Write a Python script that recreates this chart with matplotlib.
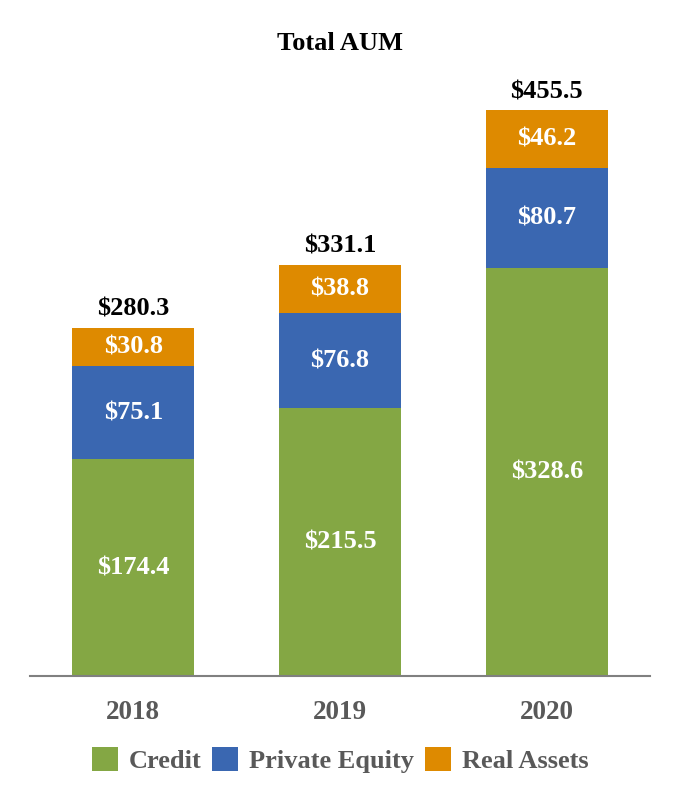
import matplotlib.pyplot as plt
import numpy as np

# data
years = ['2018', '2019', '2020']
credit = [174.4, 215.5, 328.6]
private_equity = [75.1, 76.8, 80.7]
real_assets = [30.8, 38.8, 46.2]
totals = [280.3, 331.1, 455.5]

series_names = ['Credit', 'Private Equity', 'Real Assets']
colors = ['#84A744', '#3A67B1', '#DE8A00']

plt.rcParams['font.family'] = ['Liberation Serif', 'DejaVu Serif']
plt.rcParams['font.weight'] = 'bold'

fig = plt.figure(figsize=(6.8, 8), dpi=100)
ax = fig.add_axes([0.044, 0.155, 0.912, 0.776])

x = np.arange(len(years))
w = 0.59
bottom = np.zeros(len(years))
handles = []
for vals, name, c in zip([credit, private_equity, real_assets], series_names, colors):
    b = ax.bar(x, vals, w, bottom=bottom, color=c, label=name)
    handles.append(b)
    for xi, v, bt in zip(x, vals, bottom):
        ax.text(xi, bt + v / 2, '$' + format(v, '.1f'), ha='center', va='center',
                color='white', fontsize=19, fontweight='bold')
    bottom += np.array(vals)

for xi, t in zip(x, totals):
    ax.text(xi, t + 6, '$' + format(t, '.1f'), ha='center', va='bottom',
            color='black', fontsize=19, fontweight='bold')

ax.set_xlim(-0.5, 2.5)
ax.set_ylim(0, 500)
ax.set_yticks([])
ax.set_xticks(x)
ax.set_xticklabels(years, fontsize=19.5, fontweight='bold', color='#595959')
ax.tick_params(axis='x', length=0, pad=17)
for s in ['top', 'right', 'left']:
    ax.spines[s].set_visible(False)
ax.spines['bottom'].set_color('#808080')
ax.spines['bottom'].set_linewidth(1.5)

fig.text(0.5, 0.945, 'Total AUM', ha='center', va='center', fontsize=19, fontweight='bold')

leg = fig.legend(handles=handles, loc='center', bbox_to_anchor=(0.5, 0.05), ncol=3,
                 frameon=False, handlelength=1.0, handleheight=1.0, handletextpad=0.4,
                 columnspacing=0.4, prop={'size': 19, 'weight': 'bold'})
for t in leg.get_texts():
    t.set_color('#595959')

fig.savefig('out.png', dpi=100)
